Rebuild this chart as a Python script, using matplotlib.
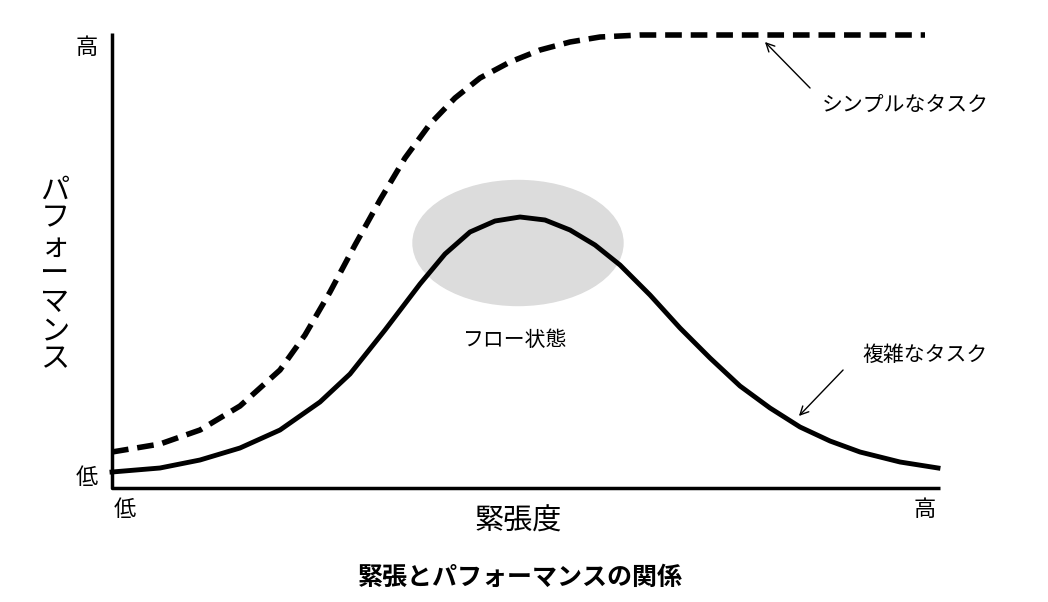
import matplotlib.pyplot as plt
from matplotlib.patches import Ellipse

plt.rcParams['font.family'] = ['Noto Sans CJK JP', 'DejaVu Sans']

W, H = 1048, 602

# curves in pixel positions (x, y from top)
solid_px = [112, 160, 200, 240, 280, 320, 350, 385, 420, 445, 470, 495, 520, 545, 570, 595, 620,
            650, 680, 710, 740, 770, 800, 830, 860, 900, 938]
solid_py = [472, 468, 460, 448, 430, 402, 374, 330, 284, 254, 232, 221, 217, 220, 230, 245, 265,
            295, 328, 358, 386, 408, 427, 441, 452, 462, 468]
dashed_px = [112, 160, 200, 240, 280, 305, 330, 355, 380, 405, 430, 455, 480, 510, 540, 570, 600, 640, 925]
dashed_py = [452, 444, 430, 406, 370, 335, 292, 245, 200, 158, 124, 98, 78, 62, 50, 42, 37, 35, 35]

fig = plt.figure(figsize=(W / 100, H / 100), dpi=100)
ax = fig.add_axes([0, 0, 1, 1])
ax.set_xlim(0, W)
ax.set_ylim(H, 0)
ax.axis('off')

# axes lines
ax.plot([112, 112, 940], [33, 488, 488], color='black', lw=2.5, solid_capstyle='butt')

ax.add_patch(Ellipse((518, 243), 210, 125, color='#dcdcdc', zorder=1))
ax.plot(dashed_px, dashed_py, color='black', lw=4, ls=(0, (3, 1.6)), zorder=3,
        solid_joinstyle='round', dash_joinstyle='round')
ax.plot(dashed_px, dashed_py, color='black', lw=3.5, zorder=3, alpha=0)
ax.plot(solid_px, solid_py, color='black', lw=3.5, zorder=3, solid_joinstyle='round')

ax.text(515, 340, 'フロー状態', fontsize=15, ha='center', va='center')
ax.text(905, 105, 'シンプルなタスク', fontsize=15, ha='center', va='center')
ax.annotate('', xy=(763, 40), xytext=(812, 90),
            arrowprops=dict(arrowstyle='->', color='black', lw=1, mutation_scale=15))
ax.text(925, 355, '複雑なタスク', fontsize=15, ha='center', va='center')
ax.annotate('', xy=(797, 418), xytext=(845, 368),
            arrowprops=dict(arrowstyle='->', color='black', lw=1, mutation_scale=15))

ax.text(87, 48, '高', fontsize=16, ha='center', va='center')
ax.text(87, 478, '低', fontsize=16, ha='center', va='center')
ax.text(125, 510, '低', fontsize=16, ha='center', va='center')
ax.text(925, 510, '高', fontsize=16, ha='center', va='center')
ax.text(518, 522, '緊張度', fontsize=21, ha='center', va='center')
ax.text(55, 275, '\n'.join('パフォーマンス'), fontsize=21, ha='center', va='center',
        linespacing=0.92)
ax.text(520, 578, '緊張とパフォーマンスの関係', fontsize=18, fontweight='bold',
        ha='center', va='center')

fig.savefig('out.png', dpi=100)
